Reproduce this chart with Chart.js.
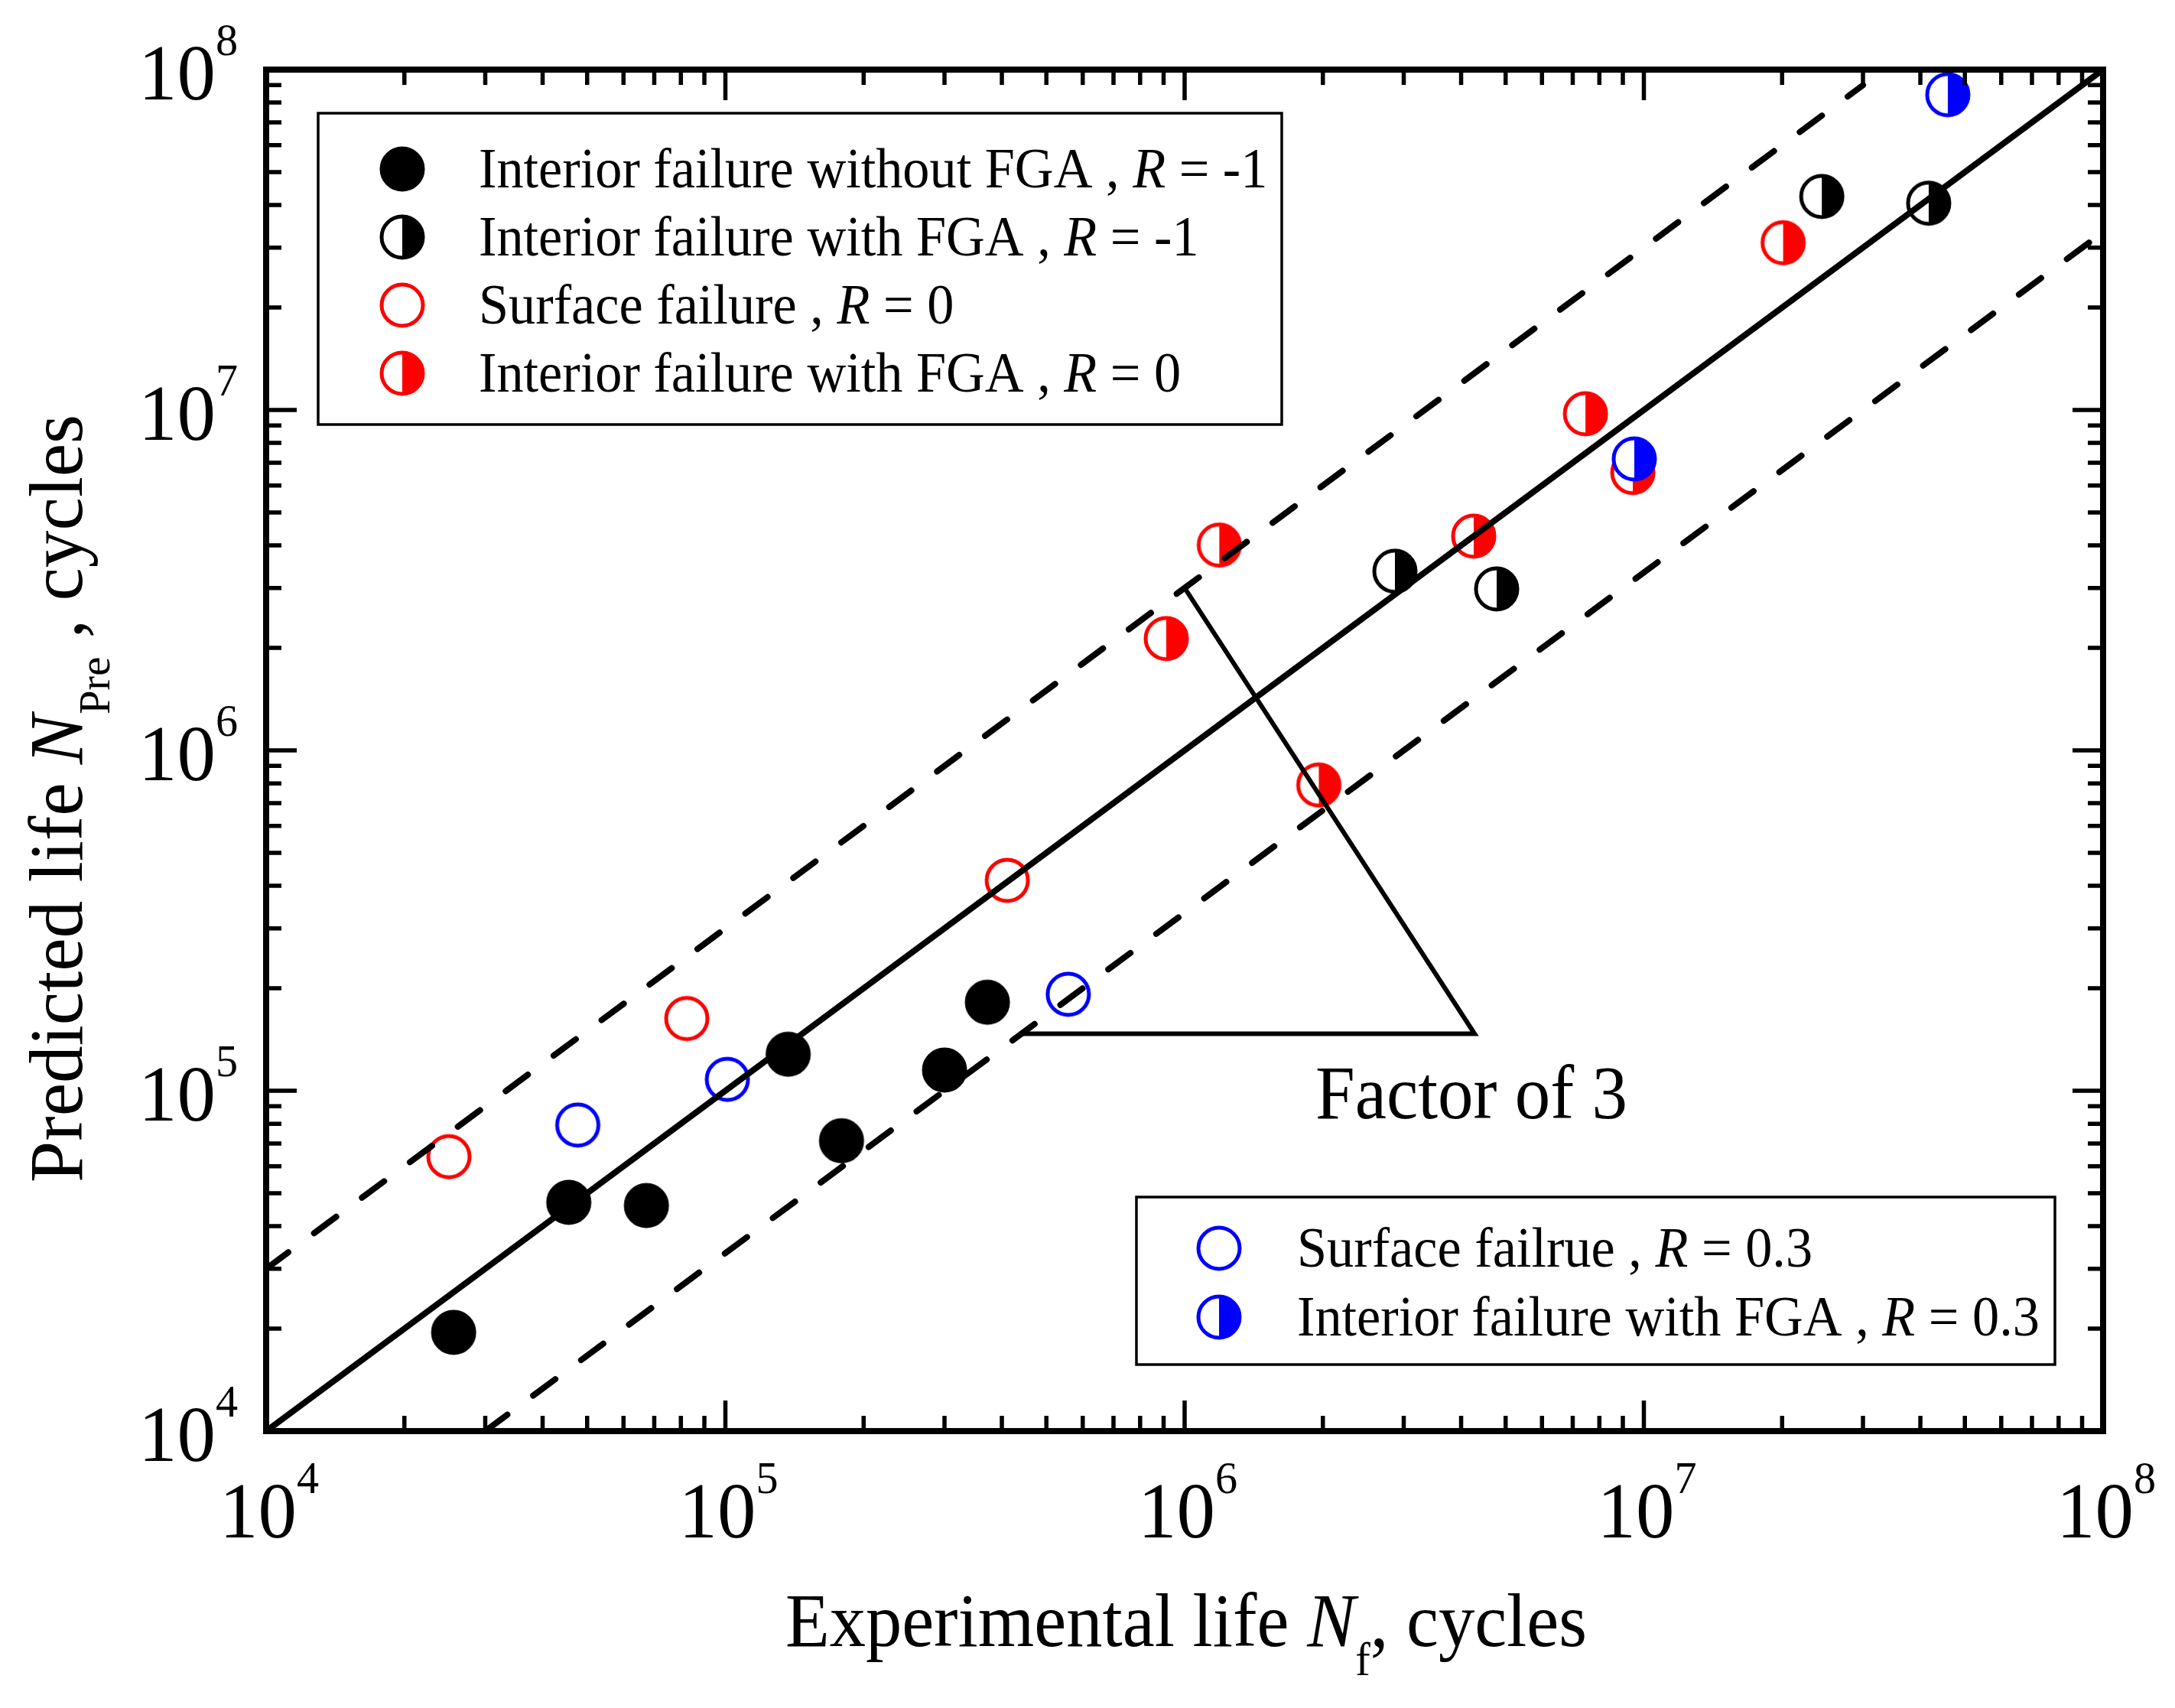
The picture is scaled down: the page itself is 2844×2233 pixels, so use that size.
<!DOCTYPE html>
<html>
<head>
<meta charset="utf-8">
<script src="https://cdn.jsdelivr.net/npm/chart.js@4.4.1/dist/chart.umd.min.js"></script>
<style>
  html, body { margin: 0; padding: 0; background: #fff; }
  #wrap { width: 2844px; height: 2233px; }
</style>
</head>
<body>
<div id="wrap"><canvas id="chart"></canvas></div>
<script>
// experimental life (x) / predicted life (y)
const noFgaM1X = [2.56e4, 4.56e4, 6.73e4, 1.37e5, 1.79e5, 3.0e5, 3.72e5];
const noFgaM1Y = [1.95e4, 4.70e4, 4.60e4, 1.28e5, 7.13e4, 1.15e5, 1.82e5];

const fgaM1X = [2.87e6, 4.78e6, 2.44e7, 4.17e7];
const fgaM1Y = [3.36e6, 2.98e6, 4.24e7, 4.05e7];

const surfR0X = [2.50e4, 8.24e4, 4.11e5];
const surfR0Y = [6.40e4, 1.63e5, 4.15e5];

const fgaR0X = [9.12e5, 1.19e6, 1.96e6, 4.26e6, 7.46e6, 9.46e6, 2.01e7];
const fgaR0Y = [2.13e6, 4.01e6, 7.91e5, 4.26e6, 9.75e6, 6.55e6, 3.10e7];

const surfR03X = [4.77e4, 1.01e5, 5.58e5];
const surfR03Y = [7.93e4, 1.08e5, 1.92e5];

const fgaR03X = [9.53e6, 4.59e7];
const fgaR03Y = [7.18e6, 8.44e7];

// 1:1 line and factor-of-3 band
const equalX = [1e4, 1e8];
const equalY = [1e4, 1e8];
const upperX = [1e4, 3e7];
const upperY = [3e4, 9e7];
const lowerX = [3e4, 1e8];
const lowerY = [1e4, 3.33e7];

// "Factor of 3" bracket
const bracketX = [1e6, 4.28e6, 4.44e5];
const bracketY = [3e6, 1.47e5, 1.47e5];

// axes
const axisMin = 1e4;
const axisMax = 1e8;
const tickExps = [4, 5, 6, 7, 8];

const legendTop = [
  { color: "#000000", kind: "full", text: "Interior failure without FGA , ", r: " = -1" },
  { color: "#000000", kind: "half", text: "Interior failure with FGA , ", r: " = -1" },
  { color: "#ff0000", kind: "open", text: "Surface failure , ", r: " = 0" },
  { color: "#ff0000", kind: "half", text: "Interior failure with FGA , ", r: " = 0" },
];
const legendBottom = [
  { color: "#0000ff", kind: "open", text: "Surface failrue , ", r: " = 0.3" },
  { color: "#0000ff", kind: "half", text: "Interior failure with FGA , ", r: " = 0.3" },
];

const FONT = '"Liberation Serif", "Times New Roman", serif';

function makeMarker(color, kind) {
  const size = 66;
  const c = document.createElement("canvas");
  c.width = size;
  c.height = size;
  const g = c.getContext("2d");
  const m = size / 2, r = 27;
  g.beginPath();
  g.arc(m, m, r, 0, Math.PI * 2);
  g.fillStyle = kind === "full" ? color : "#ffffff";
  g.fill();
  if (kind === "half") {
    g.beginPath();
    g.moveTo(m, m - r);
    g.arc(m, m, r, -Math.PI / 2, Math.PI / 2);
    g.closePath();
    g.fillStyle = color;
    g.fill();
  }
  g.beginPath();
  g.arc(m, m, r, 0, Math.PI * 2);
  g.lineWidth = 5;
  g.strokeStyle = color;
  g.stroke();
  return c;
}

const pts = (xs, ys) => xs.map((x, i) => ({ x: x, y: ys[i] }));

function markerSet(xs, ys, color, kind, order) {
  return {
    data: pts(xs, ys),
    pointStyle: makeMarker(color, kind),
    pointRadius: 29,
    showLine: false,
    clip: false,
    order: order,
  };
}

function lineSet(xs, ys, width, dash) {
  return {
    data: pts(xs, ys),
    showLine: true,
    borderColor: "#000000",
    borderWidth: width,
    borderDash: dash,
    borderCapStyle: dash.length ? "round" : "butt",
    borderJoinStyle: "miter",
    pointRadius: 0,
    tension: 0,
    fill: false,
    order: 0,
  };
}

// text pieces one after another, squeezed horizontally by sx
function runsWidth(ctx, parts) {
  let w = 0;
  parts.forEach((p) => {
    ctx.font = p.font;
    w += ctx.measureText(p.t).width;
  });
  return w;
}
function runs(ctx, x, y, parts, sx) {
  sx = sx || 1;
  ctx.save();
  ctx.translate(x, y);
  ctx.scale(sx, 1);
  let cx = 0;
  parts.forEach((p) => {
    ctx.font = p.font;
    ctx.fillText(p.t, cx, p.dy || 0);
    cx += ctx.measureText(p.t).width;
  });
  ctx.restore();
  return x + cx * sx;
}

const decorPlugin = {
  id: "decor",
  afterDraw(chart) {
    const ctx = chart.ctx;
    const a = chart.chartArea;
    const xs = chart.scales.x, ys = chart.scales.y;
    ctx.save();
    ctx.fillStyle = "#000";
    ctx.strokeStyle = "#000";
    ctx.textBaseline = "alphabetic";
    ctx.textAlign = "left";

    // ticks on all four sides, pointing inward
    ctx.lineWidth = 5.5;
    ctx.lineCap = "butt";
    for (let e = 4; e <= 8; e++) {
      for (let k = 1; k <= 9; k++) {
        const v = k * Math.pow(10, e);
        if (v > axisMax) break;
        const len = k === 1 ? 40 : 20;
        const px = xs.getPixelForValue(v);
        const py = ys.getPixelForValue(v);
        ctx.beginPath();
        ctx.moveTo(px, a.bottom); ctx.lineTo(px, a.bottom - len);
        ctx.moveTo(px, a.top); ctx.lineTo(px, a.top + len);
        ctx.moveTo(a.left, py); ctx.lineTo(a.left + len, py);
        ctx.moveTo(a.right, py); ctx.lineTo(a.right - len, py);
        ctx.stroke();
      }
    }

    // frame
    ctx.lineWidth = 8;
    ctx.lineJoin = "miter";
    ctx.strokeRect(a.left, a.top, a.right - a.left, a.bottom - a.top);

    // tick labels 10^n
    const base = "104px " + FONT, sup = "60px " + FONT;
    tickExps.forEach((n) => {
      const v = Math.pow(10, n);
      const parts = [{ t: "10", font: base }, { t: String(n), font: sup, dy: -58 }];
      const w = runsWidth(ctx, parts) * 0.97;
      const px = xs.getPixelForValue(v);
      runs(ctx, px - w / 2 + 4, a.bottom + 139, parts, 0.97);
      const py = ys.getPixelForValue(v);
      runs(ctx, a.left - 37 - w, py + 39, parts, 0.97);
    });

    // x title
    const tf = "100px " + FONT, ti = "italic 100px " + FONT, ts = "62px " + FONT;
    const xParts = [
      { t: "Experimental life ", font: tf },
      { t: "N", font: ti },
      { t: "f", font: ts, dy: 38 },
      { t: ", cycles", font: tf },
    ];
    const xSq = 0.945;
    const xw = runsWidth(ctx, xParts) * xSq;
    runs(ctx, (a.left + a.right) / 2 - xw / 2 + 2, 2152, xParts, xSq);

    // y title, rotated
    const yParts = [
      { t: "Predicted life ", font: tf },
      { t: "N", font: ti },
      { t: "Pre", font: "58px " + FONT, dy: 36 },
      { t: " , cycles", font: tf },
    ];
    const ySq = 0.975;
    const yw = runsWidth(ctx, yParts) * ySq;
    ctx.save();
    ctx.translate(107, 1044);
    ctx.rotate(-Math.PI / 2);
    runs(ctx, -yw / 2, 0, yParts, ySq);
    ctx.restore();

    // Factor of 3
    runs(ctx, 1720, 1462, [{ t: "Factor of 3", font: "100px " + FONT }], 0.93);

    // legends
    function legend(items, box, mx, tx, y0, dy) {
      ctx.lineWidth = 3.5;
      ctx.fillStyle = "#fff";
      ctx.fillRect(box[0], box[1], box[2] - box[0], box[3] - box[1]);
      ctx.strokeRect(box[0], box[1], box[2] - box[0], box[3] - box[1]);
      ctx.fillStyle = "#000";
      items.forEach((it, i) => {
        const cy = y0 + i * dy;
        const img = makeMarker(it.color, it.kind);
        ctx.drawImage(img, mx - img.width / 2, cy - img.height / 2);
        runs(ctx, tx, cy + 24, [
          { t: it.text, font: "74px " + FONT },
          { t: "R", font: "italic 74px " + FONT },
          { t: it.r, font: "74px " + FONT },
        ], 0.95);
      });
    }
    legend(legendTop, [416, 148, 1676, 555], 526, 626, 221, 89);
    legend(legendBottom, [1486, 1565, 2687, 1784], 1594, 1696, 1632, 90);

    ctx.restore();
  },
};

new Chart(document.getElementById("chart"), {
  type: "scatter",
  data: {
    datasets: [
      lineSet(equalX, equalY, 8, []),
      lineSet(upperX, upperY, 8, [36, 42]),
      lineSet(lowerX, lowerY, 8, [36, 42]),
      lineSet(bracketX, bracketY, 6, []),
      markerSet(fgaR03X, fgaR03Y, "#0000ff", "half", 1),
      markerSet(surfR03X, surfR03Y, "#0000ff", "open", 2),
      markerSet(fgaR0X, fgaR0Y, "#ff0000", "half", 3),
      markerSet(surfR0X, surfR0Y, "#ff0000", "open", 4),
      markerSet(fgaM1X, fgaM1Y, "#000000", "half", 5),
      markerSet(noFgaM1X, noFgaM1Y, "#000000", "full", 6),
    ],
  },
  options: {
    responsive: true,
    maintainAspectRatio: false,
    devicePixelRatio: 1,
    animation: false,
    events: [],
    layout: { padding: { left: 348, right: 94, top: 91, bottom: 362 } },
    scales: {
      x: { type: "logarithmic", min: axisMin, max: axisMax, display: false },
      y: { type: "logarithmic", min: axisMin, max: axisMax, display: false },
    },
    plugins: { legend: { display: false }, tooltip: { enabled: false } },
  },
  plugins: [decorPlugin],
});
</script>
</body>
</html>
